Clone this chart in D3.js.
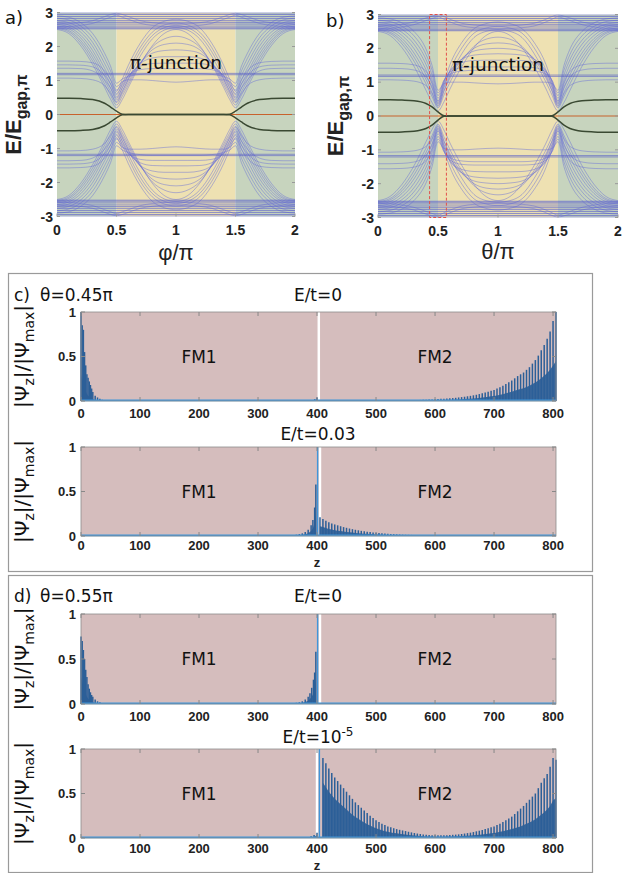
<!DOCTYPE html>
<html>
<head>
<meta charset="utf-8">
<script src="https://cdn.jsdelivr.net/npm/d3@7/dist/d3.min.js"></script>
<style>
html,body{margin:0;padding:0;background:#fff;}
svg{display:block;}
</style>
</head>
<body>
<svg id="fig" width="622" height="873"></svg>
<script>
// ---------------- DATA : panels a and b ----------------
// half-period grid (phi/pi or theta/pi from 0 to 1); spectra are symmetric about 1 and about E=0
const phiGrid = [0, 0.1, 0.2, 0.3, 0.4, 0.45, 0.5, 0.55, 0.6, 0.7, 0.8, 0.9, 1];
const xTicksTop = [0, 0.5, 1, 1.5, 2];
const yTicksTop = [-3, -2, -1, 0, 1, 2, 3];
const regionStart = [0, 0.5, 1.5];
const regionEnd = [0.5, 1.5, 2];
const regionKind = ["fm", "pi", "fm"];
const flatTopLevels = [2.52, 2.55, 2.60, 2.66, 2.71, 2.76, 2.82, 2.88, 2.94, 2.99];
const flatMidLevels = [1.17, 1.21];

const bandsA = [
  [2.50, 2.38, 2.02, 1.47, 0.80, 0.45, 0.20, 0.45, 0.80, 1.47, 2.02, 2.38, 2.50],
  [2.53, 2.43, 2.10, 1.57, 0.90, 0.57, 0.28, 0.55, 0.88, 1.50, 1.98, 2.22, 2.30],
  [2.56, 2.47, 2.17, 1.67, 1.00, 0.67, 0.35, 0.63, 0.95, 1.52, 1.90, 2.06, 2.10],
  [2.60, 2.52, 2.25, 1.77, 1.12, 0.78, 0.43, 0.71, 1.02, 1.52, 1.80, 1.88, 1.90],
  [2.65, 2.57, 2.33, 1.88, 1.23, 0.90, 0.52, 0.79, 1.08, 1.50, 1.66, 1.70, 1.70],
  [2.70, 2.63, 2.42, 2.00, 1.36, 1.02, 0.62, 0.87, 1.13, 1.42, 1.50, 1.51, 1.51],
  [2.76, 2.70, 2.51, 2.12, 1.50, 1.15, 0.72, 0.94, 1.15, 1.32, 1.35, 1.35, 1.35],
  [2.83, 2.78, 2.60, 2.25, 1.65, 1.28, 0.82, 0.97, 1.02, 1.02, 1.00, 0.97, 0.95],
  [2.90, 2.86, 2.70, 2.38, 1.80, 1.42, 0.92, 1.05, 1.12, 1.18, 1.20, 1.20, 1.20],
  [1.07, 1.07, 1.06, 1.02, 0.85, 0.62, 0.38, 0.68, 1.05, 1.72, 2.22, 2.48, 2.56],
  [1.36, 1.36, 1.35, 1.28, 1.02, 0.78, 0.48, 0.80, 1.18, 1.85, 2.32, 2.55, 2.62],
  [1.46, 1.46, 1.45, 1.40, 1.15, 0.90, 0.58, 0.92, 1.30, 1.97, 2.42, 2.63, 2.69],
  [1.57, 1.57, 1.56, 1.52, 1.28, 1.02, 0.68, 1.05, 1.45, 2.10, 2.55, 2.74, 2.80],
  [2.58, 2.59, 2.62, 2.68, 2.80, 2.86, 2.92, 2.86, 2.80, 2.68, 2.62, 2.59, 2.58],
  [2.66, 2.67, 2.70, 2.76, 2.88, 2.94, 2.98, 2.94, 2.88, 2.76, 2.70, 2.67, 2.66]
];
const bandsB = [
  [2.50, 2.38, 2.02, 1.47, 0.76, 0.40, 0.15, 0.42, 0.80, 1.47, 2.02, 2.38, 2.50],
  [2.53, 2.44, 2.13, 1.62, 0.95, 0.58, 0.24, 0.62, 1.00, 1.62, 2.06, 2.27, 2.33],
  [2.56, 2.48, 2.21, 1.74, 1.08, 0.70, 0.31, 0.74, 1.12, 1.68, 2.00, 2.13, 2.16],
  [2.60, 2.53, 2.29, 1.86, 1.22, 0.82, 0.38, 0.84, 1.22, 1.70, 1.92, 1.98, 2.00],
  [2.65, 2.59, 2.38, 1.99, 1.37, 0.95, 0.45, 0.93, 1.30, 1.68, 1.80, 1.83, 1.84],
  [2.70, 2.65, 2.47, 2.12, 1.52, 1.08, 0.52, 1.00, 1.34, 1.58, 1.64, 1.65, 1.65],
  [2.76, 2.71, 2.56, 2.24, 1.67, 1.22, 0.60, 1.05, 1.30, 1.43, 1.45, 1.45, 1.45],
  [2.83, 2.79, 2.65, 2.37, 1.82, 1.36, 0.68, 1.06, 1.24, 1.33, 1.35, 1.35, 1.35],
  [2.90, 2.87, 2.75, 2.50, 1.98, 1.50, 0.76, 0.96, 1.00, 1.00, 0.98, 0.96, 0.95],
  [1.07, 1.07, 1.06, 1.03, 0.90, 0.66, 0.28, 0.75, 1.18, 1.85, 2.32, 2.50, 2.55],
  [1.41, 1.41, 1.40, 1.36, 1.16, 0.86, 0.35, 0.88, 1.35, 2.02, 2.45, 2.60, 2.65],
  [1.56, 1.56, 1.55, 1.51, 1.32, 1.00, 0.42, 1.00, 1.52, 2.18, 2.58, 2.73, 2.78],
  [2.58, 2.59, 2.63, 2.70, 2.82, 2.88, 2.93, 2.86, 2.78, 2.66, 2.61, 2.59, 2.58],
  [2.66, 2.67, 2.71, 2.78, 2.90, 2.95, 2.99, 2.94, 2.86, 2.74, 2.69, 2.67, 2.66]
];
const darkA = [0.48, 0.48, 0.47, 0.44, 0.33, 0.22, 0.10, 0.01, 0, 0, 0, 0, 0];
const darkB = [0.48, 0.48, 0.47, 0.45, 0.37, 0.27, 0.12, 0.01, 0, 0, 0, 0, 0];
const redBox = [0.43, 0.57];

// ---------------- DATA : panels c and d ----------------
const zTicks = [0, 100, 200, 300, 400, 500, 600, 700, 800];
const psiTicks = [0, 0.5, 1];

const c1Z = [0,2,4,6,8,10,12,14,16,18,20,24,28,32,36,40, 392,396,400,
  560,565,570,575,580,585,590,595,600,605,610,615,620,625,630,635,640,645,650,655,660,665,670,675,680,685,690,695,700,
  705,710,715,720,725,730,735,740,745,750,755,760,765,770,775,780,785,790,795,800,805];
const c1Hi = [1.0,0.85,0.8,0.55,0.4,0.3,0.26,0.22,0.18,0.14,0.1,0.06,0.04,0.025,0.015,0.008, 0.01,0.02,0.04,
  0.009,0.01,0.011,0.012,0.013,0.014,0.016,0.018,0.02,0.022,0.024,0.026,0.028,0.03,0.033,0.036,0.04,0.044,0.048,0.053,0.058,0.064,0.07,0.078,0.086,0.095,0.105,0.115,0.125,
  0.14,0.155,0.17,0.19,0.21,0.23,0.255,0.28,0.3,0.32,0.35,0.38,0.42,0.46,0.51,0.57,0.63,0.7,0.78,0.9,1.0];
const c1Lo = [0.3,0.25,0.2,0.15,0.11,0.08,0.06,0.05,0.04,0.03,0.02,0.012,0.008,0.004,0.002,0, 0.005,0.01,0.02,
  0.004,0.004,0.005,0.005,0.006,0.006,0.007,0.008,0.009,0.01,0.011,0.012,0.013,0.014,0.015,0.016,0.018,0.02,0.022,0.024,0.026,0.029,0.032,0.035,0.039,0.043,0.047,0.052,0.056,
  0.063,0.07,0.077,0.086,0.095,0.104,0.115,0.126,0.135,0.144,0.158,0.171,0.19,0.207,0.23,0.257,0.285,0.315,0.35,0.4,0.45];

const c2Z = [345,350,355,360,365,370,375,380,385,390,393,396,398,
  405,410,415,420,425,430,435,440,445,450,455,460,465,470,475,480,485,490,495,500,
  505,510,515,520,525,530,535,540,545,550,555,560,565,570,575,580,585,590,595,600];
const c2Hi = [0.005,0.007,0.009,0.011,0.015,0.022,0.03,0.045,0.07,0.12,0.18,0.32,0.58,
  0.21,0.19,0.17,0.155,0.14,0.13,0.12,0.11,0.1,0.092,0.084,0.077,0.07,0.064,0.058,0.053,0.048,0.044,0.04,0.036,
  0.033,0.03,0.027,0.025,0.023,0.021,0.019,0.017,0.015,0.014,0.013,0.012,0.011,0.01,0.009,0.008,0.007,0.007,0.006,0.006];
const c2Lo = [0.002,0.003,0.004,0.005,0.007,0.01,0.014,0.02,0.032,0.055,0.085,0.15,0.28,
  0.11,0.1,0.09,0.08,0.072,0.066,0.06,0.055,0.05,0.046,0.042,0.038,0.035,0.032,0.029,0.026,0.024,0.022,0.02,0.018,
  0.016,0.015,0.014,0.012,0.011,0.01,0.009,0.008,0.008,0.007,0.006,0.006,0.005,0.005,0.004,0.004,0.004,0.003,0.003,0.003];

const d1Z = [0,2,4,6,8,10,12,14,16,18,20,24,28,32,36,40, 350,355,360,365,370,375,380,385,388,391,394,396,398];
const d1Hi = [0.75,0.7,0.6,0.5,0.38,0.3,0.22,0.17,0.13,0.1,0.08,0.05,0.03,0.02,0.012,0.006,
  0.005,0.007,0.01,0.014,0.02,0.03,0.05,0.08,0.12,0.18,0.27,0.35,0.58];
const d1Lo = [0.3,0.25,0.2,0.15,0.11,0.08,0.06,0.045,0.035,0.025,0.02,0.012,0.007,0.004,0.002,0.001,
  0.002,0.003,0.004,0.006,0.009,0.013,0.022,0.035,0.055,0.08,0.12,0.16,0.27];

const d2Z = [385,390,395,400,
  410,415,420,425,430,435,440,445,450,455,460,465,470,475,480,485,490,495,500,505,
  510,515,520,525,530,535,540,545,550,555,560,565,570,575,580,585,590,595,600,605,
  610,615,620,625,630,635,640,645,650,655,660,665,670,675,680,685,690,695,700,705,
  710,715,720,725,730,735,740,745,750,755,760,765,770,775,780,785,790,795,800,805];
const d2Hi = [0.01,0.02,0.035,0.06,
  0.9,0.84,0.78,0.73,0.68,0.64,0.6,0.56,0.52,0.48, 0.44,0.4,0.37,0.34,0.31,0.28,0.25,0.225,0.2,0.18,
  0.16,0.145,0.13,0.12,0.11,0.1,0.092,0.085,0.078,0.07, 0.063,0.056,0.05,0.045,0.04,0.037,0.034,0.032,0.03,0.03,
  0.03,0.031,0.032,0.034,0.036,0.038,0.041,0.045,0.05,0.055, 0.06,0.067,0.075,0.082,0.09,0.1,0.11,0.12,0.13,0.145,
  0.16,0.18,0.2,0.22,0.24,0.27,0.3,0.33,0.36,0.395, 0.43,0.465,0.5,0.56,0.62,0.67,0.72,0.8,0.9,0.88];
const d2Lo = [0.004,0.008,0.015,0.03,
  0.62,0.57,0.52,0.48,0.44,0.41,0.38,0.35,0.32,0.29, 0.26,0.235,0.215,0.195,0.175,0.155,0.14,0.125,0.11,0.098,
  0.086,0.077,0.069,0.063,0.057,0.052,0.047,0.043,0.039,0.035, 0.031,0.028,0.025,0.022,0.02,0.018,0.017,0.016,0.015,0.015,
  0.015,0.015,0.016,0.017,0.018,0.019,0.02,0.022,0.024,0.026, 0.028,0.031,0.034,0.037,0.04,0.044,0.048,0.052,0.057,0.063,
  0.07,0.077,0.085,0.093,0.1,0.11,0.12,0.13,0.145,0.16, 0.175,0.19,0.21,0.235,0.26,0.29,0.32,0.36,0.42,0.45];

// ---------------- DRAWING ----------------
const svg = d3.select("#fig");
const defs = svg.append("defs");
const regionColor = { fm: "#c7d4be", pi: "#eee1b2" };
const SANS = "'DejaVu Sans', Verdana, sans-serif";
const ARIAL = "'Liberation Sans', Arial, sans-serif";

function mirrorHalf(vals, sgn) {
  const pts = phiGrid.map((p, i) => [p, sgn * vals[i]]);
  for (let i = phiGrid.length - 2; i >= 0; i--) pts.push([2 - phiGrid[i], sgn * vals[i]]);
  return pts;
}

function bandPanel(cfg) {
  const { x, y, bands, dark, id, box } = cfg;
  const g = svg.append("g");
  const clipId = "clip" + id;
  defs.append("clipPath").attr("id", clipId).append("rect")
    .attr("x", x(0)).attr("y", y(3)).attr("width", x(2) - x(0)).attr("height", y(-3) - y(3));
  const pg = g.append("g").attr("clip-path", `url(#${clipId})`);
  regionStart.forEach((s, i) => {
    pg.append("rect").attr("x", x(s)).attr("y", y(3))
      .attr("width", x(regionEnd[i]) - x(s)).attr("height", y(-3) - y(3))
      .attr("fill", regionColor[regionKind[i]]);
  });
  const line = d3.line().x(d => x(d[0])).y(d => y(d[1])).curve(d3.curveMonotoneX);
  [1, -1].forEach(sgn => {
    bands.forEach(b => {
      pg.append("path").attr("d", line(mirrorHalf(b, sgn))).attr("fill", "none")
        .attr("stroke", "#6a70d6").attr("stroke-opacity", 0.6).attr("stroke-width", 0.8);
    });
    flatTopLevels.forEach(v => {
      pg.append("line").attr("x1", x(0)).attr("x2", x(2)).attr("y1", y(sgn * v)).attr("y2", y(sgn * v))
        .attr("stroke", "#5a60cc").attr("stroke-opacity", 0.75).attr("stroke-width", 0.9);
    });
    flatMidLevels.forEach(v => {
      pg.append("line").attr("x1", x(0)).attr("x2", x(2)).attr("y1", y(sgn * v)).attr("y2", y(sgn * v))
        .attr("stroke", "#5a60c8").attr("stroke-opacity", 0.7).attr("stroke-width", 0.9);
    });
  });
  pg.append("line").attr("x1", x(0)).attr("x2", x(2)).attr("y1", y(0)).attr("y2", y(0))
    .attr("stroke", "#c8622c").attr("stroke-width", 1.2);
  [1, -1].forEach(sgn => {
    pg.append("path").attr("d", line(mirrorHalf(dark, sgn))).attr("fill", "none")
      .attr("stroke", "#3a4932").attr("stroke-width", 1.5);
  });
  if (box) {
    g.append("rect").attr("x", x(box[0])).attr("y", y(3)).attr("width", x(box[1]) - x(box[0]))
      .attr("height", y(-3) - y(3)).attr("fill", "none").attr("stroke", "#e2504a")
      .attr("stroke-width", 1).attr("stroke-dasharray", "3,2");
  }
  // ticks (inward)
  yTicksTop.forEach(t => {
    g.append("line").attr("x1", x(0)).attr("x2", x(0) + 3).attr("y1", y(t)).attr("y2", y(t)).attr("stroke", "#999");
    g.append("line").attr("x1", x(2)).attr("x2", x(2) - 3).attr("y1", y(t)).attr("y2", y(t)).attr("stroke", "#999");
    g.append("text").attr("x", cfg.yLabelX).attr("y", y(t)).attr("dy", "0.36em").attr("text-anchor", "end")
      .attr("font-family", ARIAL).attr("font-weight", "bold").attr("font-size", 14).attr("fill", "#222").text(t);
  });
  xTicksTop.forEach(t => {
    g.append("line").attr("x1", x(t)).attr("x2", x(t)).attr("y1", y(-3)).attr("y2", y(-3) - 3).attr("stroke", "#999");
    g.append("text").attr("x", x(t)).attr("y", cfg.xLabelY).attr("text-anchor", "middle")
      .attr("font-family", ARIAL).attr("font-weight", "bold").attr("font-size", 14).attr("fill", "#222").text(t);
  });
  // axis titles
  g.append("text").attr("x", (x(0) + x(2)) / 2).attr("y", cfg.xTitleY).attr("text-anchor", "middle")
    .attr("font-family", ARIAL).attr("font-size", 22).attr("fill", "#222").text(cfg.xTitle);
  const yt = g.append("text").attr("transform", `translate(${cfg.yTitleX},${(y(3) + y(-3)) / 2}) rotate(-90)`)
    .attr("text-anchor", "middle").attr("font-family", ARIAL).attr("font-weight", "bold")
    .attr("font-size", 22).attr("fill", "#222");
  yt.append("tspan").text("E/E");
  yt.append("tspan").attr("dy", 6).attr("font-size", 16).text("gap,π");
  g.append("text").attr("x", cfg.tagX).attr("y", cfg.tagY).attr("font-family", SANS).attr("font-size", 18)
    .attr("fill", "#111").text(cfg.tag);
  g.append("text").attr("x", x(1)).attr("y", cfg.juncY).attr("text-anchor", "middle").attr("font-family", SANS)
    .attr("font-size", 18.5).attr("fill", "#111").text("π-junction");
}

bandPanel({
  id: "a", x: d3.scaleLinear([0, 2], [57, 295]), y: d3.scaleLinear([-3, 3], [216.5, 12.5]),
  bands: bandsA, dark: darkA, box: null, yLabelX: 53, xLabelY: 235, xTitleY: 260, xTitle: "φ/π",
  yTitleX: 21, tag: "a)", tagX: 5, tagY: 24, juncY: 69
});
bandPanel({
  id: "b", x: d3.scaleLinear([0, 2], [378, 618]), y: d3.scaleLinear([-3, 3], [217.5, 14.5]),
  bands: bandsB, dark: darkB, box: redBox, yLabelX: 374, xLabelY: 236, xTitleY: 259, xTitle: "θ/π",
  yTitleX: 343, tag: "b)", tagX: 326, tagY: 27, juncY: 71
});

// ---------- panels c, d ----------
const xW = d3.scaleLinear([0, 805], [81, 556]);

// outer boxes
svg.append("rect").attr("x", 8.5).attr("y", 273.5).attr("width", 584).attr("height", 298)
  .attr("fill", "none").attr("stroke", "#9a9a9a").attr("stroke-width", 1.2);
svg.append("rect").attr("x", 8.5).attr("y", 575.5).attr("width", 584).attr("height", 297)
  .attr("fill", "none").attr("stroke", "#9a9a9a").attr("stroke-width", 1.2);

function wavePanel(cfg) {
  const { top, bottom, zs, hi, lo, peak, gap } = cfg;
  const y = d3.scaleLinear([0, 1], [bottom, top]);
  const g = svg.append("g");
  g.append("rect").attr("x", xW(0)).attr("y", y(1)).attr("width", xW(805) - xW(0)).attr("height", y(0) - y(1))
    .attr("fill", "#d5bdbd");
  g.append("line").attr("x1", xW(gap)).attr("x2", xW(gap)).attr("y1", y(1)).attr("y2", y(0))
    .attr("stroke", "#fff").attr("stroke-width", 2.5);
  // split into contiguous runs
  const runs = [];
  let cur = [];
  zs.forEach((z, i) => {
    if (cur.length && z - zs[i - 1] > 6) { runs.push(cur); cur = []; }
    cur.push(i);
  });
  if (cur.length) runs.push(cur);
  const area = d3.area().x(i => xW(zs[i])).y0(y(0)).y1(i => y(lo[i]));
  runs.forEach(r => g.append("path").attr("d", area(r)).attr("fill", "#2c5f98").attr("fill-opacity", 0.92));
  zs.forEach((z, i) => {
    g.append("line").attr("x1", xW(z)).attr("x2", xW(z)).attr("y1", y(0)).attr("y2", y(hi[i]))
      .attr("stroke", "#2c5f98").attr("stroke-width", 1.5);
  });
  g.append("line").attr("x1", xW(0)).attr("x2", xW(805)).attr("y1", y(0.006)).attr("y2", y(0.006))
    .attr("stroke", "#3f95da").attr("stroke-width", 1.8);
  if (peak !== null) {
    g.append("line").attr("x1", xW(peak)).attr("x2", xW(peak)).attr("y1", y(0)).attr("y2", y(1))
      .attr("stroke", "#3f95da").attr("stroke-width", 1.4);
  }
  // frame and ticks
  g.append("rect").attr("x", xW(0)).attr("y", y(1)).attr("width", xW(805) - xW(0)).attr("height", y(0) - y(1))
    .attr("fill", "none").attr("stroke", "#8d8d8d").attr("stroke-width", 0.8);
  zTicks.forEach(t => {
    g.append("line").attr("x1", xW(t)).attr("x2", xW(t)).attr("y1", y(1)).attr("y2", y(1) + 4).attr("stroke", "#888");
    g.append("line").attr("x1", xW(t)).attr("x2", xW(t)).attr("y1", y(0)).attr("y2", y(0) - 4).attr("stroke", "#888");
    g.append("text").attr("x", xW(t)).attr("y", cfg.xLabelY).attr("text-anchor", "middle")
      .attr("font-family", ARIAL).attr("font-weight", "bold").attr("font-size", 13).attr("fill", "#222").text(t);
  });
  psiTicks.forEach(t => {
    g.append("line").attr("x1", xW(0)).attr("x2", xW(0) + 4).attr("y1", y(t)).attr("y2", y(t)).attr("stroke", "#888");
    g.append("line").attr("x1", xW(805)).attr("x2", xW(805) - 4).attr("y1", y(t)).attr("y2", y(t)).attr("stroke", "#888");
    g.append("text").attr("x", 76).attr("y", y(t)).attr("dy", "0.36em").attr("text-anchor", "end")
      .attr("font-family", ARIAL).attr("font-weight", "bold").attr("font-size", 13).attr("fill", "#222").text(t);
  });
  g.append("text").attr("x", xW(200)).attr("y", y(0.5)).attr("dy", "0.36em").attr("text-anchor", "middle")
    .attr("font-family", SANS).attr("font-size", 17).attr("fill", "#111").text("FM1");
  g.append("text").attr("x", xW(600)).attr("y", y(0.5)).attr("dy", "0.36em").attr("text-anchor", "middle")
    .attr("font-family", SANS).attr("font-size", 17).attr("fill", "#111").text("FM2");
  // y title
  const yt = g.append("text").attr("transform", `translate(29,${(y(0) + y(1)) / 2}) rotate(-90)`)
    .attr("text-anchor", "middle").attr("font-family", SANS).attr("font-size", 20).attr("fill", "#111");
  yt.append("tspan").text("|Ψ");
  yt.append("tspan").attr("dy", 5).attr("font-size", 14).text("z");
  yt.append("tspan").attr("dy", -5).text("|/|Ψ");
  yt.append("tspan").attr("dy", 5).attr("font-size", 14).text("max");
  yt.append("tspan").attr("dy", -5).text("|");
  // title
  const tt = g.append("text").attr("x", 318).attr("y", cfg.titleY).attr("text-anchor", "middle")
    .attr("font-family", SANS).attr("font-size", 17).attr("fill", "#111");
  tt.append("tspan").text(cfg.title);
  if (cfg.titleSup) tt.append("tspan").attr("dy", -7).attr("font-size", 12).text(cfg.titleSup);
  if (cfg.zLabelY) {
    g.append("text").attr("x", xW(400)).attr("y", cfg.zLabelY).attr("text-anchor", "middle")
      .attr("font-family", ARIAL).attr("font-weight", "bold").attr("font-size", 13).attr("fill", "#222").text("z");
  }
}

wavePanel({ top: 312, bottom: 401, zs: c1Z, hi: c1Hi, lo: c1Lo, peak: null, gap: 403,
  xLabelY: 418, title: "E/t=0", titleY: 301 });
wavePanel({ top: 447, bottom: 536, zs: c2Z, hi: c2Hi, lo: c2Lo, peak: 401, gap: 405,
  xLabelY: 550, title: "E/t=0.03", titleY: 440, zLabelY: 567 });
wavePanel({ top: 614, bottom: 704, zs: d1Z, hi: d1Hi, lo: d1Lo, peak: 401, gap: 405,
  xLabelY: 721, title: "E/t=0", titleY: 602 });
wavePanel({ top: 749, bottom: 838, zs: d2Z, hi: d2Hi, lo: d2Lo, peak: 404, gap: 400,
  xLabelY: 853, title: "E/t=10", titleSup: "-5", titleY: 743, zLabelY: 870 });

// panel tags in c, d
[["c)", "θ=0.45π", 301], ["d)", "θ=0.55π", 602]].forEach(([tag, th, yy]) => {
  svg.append("text").attr("x", 14).attr("y", yy).attr("font-family", SANS).attr("font-size", 17).attr("fill", "#111").text(tag);
  svg.append("text").attr("x", 40).attr("y", yy).attr("font-family", SANS).attr("font-size", 17).attr("fill", "#111").text(th);
});
</script>
</body>
</html>
